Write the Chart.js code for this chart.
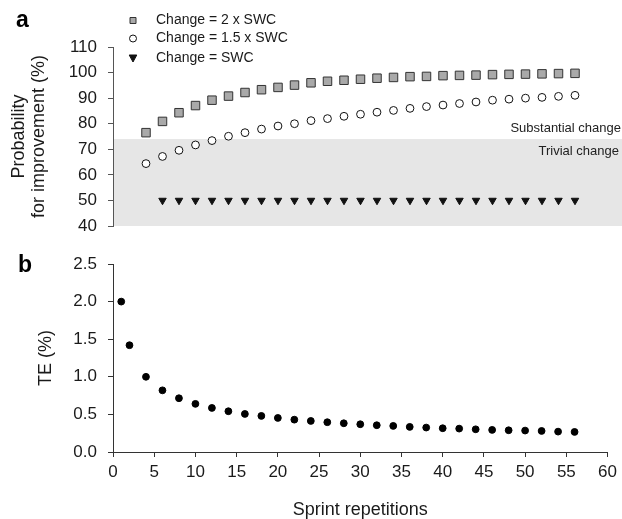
<!DOCTYPE html>
<html>
<head>
<meta charset="utf-8">
<script src="https://cdn.jsdelivr.net/npm/chart.js@4.4.1/dist/chart.umd.min.js"></script>
<style>
  html, body { margin: 0; padding: 0; background: #fff; }
  #wrap { position: relative; width: 622px; height: 519px; }
  #top { position: absolute; left: 0; top: 0; }
  #bot { position: absolute; left: 0; top: 240px; }
</style>
</head>
<body>
<div id="wrap">
  <canvas id="top" width="622" height="240"></canvas>
  <canvas id="bot" width="622" height="279"></canvas>
</div>
<script>
// panel a: probability for improvement (%)
const reps = [4, 6, 8, 10, 12, 14, 16, 18, 20, 22, 24, 26, 28, 30, 32, 34, 36, 38, 40, 42, 44, 46, 48, 50, 52, 54, 56];
const twoSWC = [76.5, 80.9, 84.3, 87.1, 89.2, 90.8, 92.2, 93.3, 94.2, 95.1, 96.0, 96.6, 97.0, 97.4, 97.8, 98.1, 98.4, 98.5, 98.8, 98.9, 99.0, 99.2, 99.3, 99.4, 99.5, 99.6, 99.7];
const onePointFiveSWC = [64.4, 67.2, 69.6, 71.7, 73.4, 75.1, 76.5, 77.9, 79.1, 80.0, 81.2, 82.0, 82.9, 83.7, 84.5, 85.2, 86.0, 86.7, 87.3, 87.9, 88.5, 89.2, 89.6, 90.0, 90.3, 90.7, 91.1];
const oneSWC = [null, 50, 50, 50, 50, 50, 50, 50, 50, 50, 50, 50, 50, 50, 50, 50, 50, 50, 50, 50, 50, 50, 50, 50, 50, 50, 50];
const seriesLabels = ['Change = 2 x SWC', 'Change = 1.5 x SWC', 'Change = SWC'];
const substantialThreshold = 74;

// panel b: typical error (%)
const teReps = [1, 2, 4, 6, 8, 10, 12, 14, 16, 18, 20, 22, 24, 26, 28, 30, 32, 34, 36, 38, 40, 42, 44, 46, 48, 50, 52, 54, 56];
const te = [2.0, 1.42, 1.0, 0.82, 0.715, 0.64, 0.586, 0.542, 0.506, 0.48, 0.453, 0.43, 0.413, 0.396, 0.382, 0.369, 0.356, 0.347, 0.334, 0.325, 0.316, 0.311, 0.302, 0.294, 0.289, 0.285, 0.28, 0.271, 0.267];

const xTicks = [0, 5, 10, 15, 20, 25, 30, 35, 40, 45, 50, 55, 60];

const FONT = '"Liberation Sans", Arial, Helvetica, sans-serif';
const TXT = '#1a1a1a';

const toXY = (xs, ys) => xs.map((x, i) => ({ x: x, y: ys[i] }));

const panelLetter = (letter, x, y) => ({
    id: 'letter' + letter,
    afterDraw(chart) {
        const ctx = chart.ctx;
        ctx.save();
        ctx.font = 'bold 23px ' + FONT;
        ctx.fillStyle = '#000';
        ctx.textBaseline = 'alphabetic';
        ctx.fillText(letter, x, y);
        ctx.restore();
    }
});

// grey band for trivial change + its labels
const bandPlugin = {
    id: 'band',
    beforeDatasetsDraw(chart) {
        const { ctx, chartArea, scales } = chart;
        const yTop = scales.y.getPixelForValue(substantialThreshold);
        const yBot = scales.y.getPixelForValue(scales.y.min);
        ctx.save();
        ctx.fillStyle = '#e6e6e6';
        ctx.fillRect(chartArea.left + 1, yTop, chart.width - chartArea.left - 1, yBot - yTop);
        ctx.font = '13px ' + FONT;
        ctx.fillStyle = '#222';
        ctx.textAlign = 'right';
        ctx.textBaseline = 'middle';
        ctx.fillText('Substantial change', 621, yTop - 11);
        ctx.fillText('Trivial change', 619, yTop + 12);
        ctx.restore();
    }
};

const legendPlugin = {
    id: 'customLegend',
    afterDraw(chart) {
        const ctx = chart.ctx;
        const rows = [20.5, 38.5, 58];
        ctx.save();
        chart.data.datasets.forEach((ds, i) => {
            const cx = 133, cy = rows[i];
            ctx.fillStyle = ds.backgroundColor;
            ctx.strokeStyle = ds.borderColor;
            ctx.lineWidth = 1;
            ctx.beginPath();
            if (ds.pointStyle === 'rect') {
                ctx.rect(cx - 3, cy - 3, 6, 6);
            } else if (ds.pointStyle === 'circle') {
                ctx.arc(cx, cy, 3.5, 0, Math.PI * 2);
            } else {
                ctx.moveTo(cx - 3.8, cy - 3);
                ctx.lineTo(cx + 3.8, cy - 3);
                ctx.lineTo(cx, cy + 4);
                ctx.closePath();
            }
            ctx.fill();
            ctx.stroke();
            ctx.font = '14px ' + FONT;
            ctx.fillStyle = TXT;
            ctx.textBaseline = 'middle';
            ctx.fillText(ds.label, 156, cy);
        });
        ctx.restore();
    }
};

const yAfterFit = scale => {
    scale.width = 113;
    scale.paddingTop = 0;
    scale.paddingBottom = 0;
};

new Chart(document.getElementById('top'), {
    type: 'scatter',
    data: {
        datasets: [{
            label: seriesLabels[0],
            data: toXY(reps, twoSWC),
            pointStyle: 'rect',
            pointRadius: 6,
            backgroundColor: '#a9a9a9',
            borderColor: '#333',
            borderWidth: 1,
            clip: false
        }, {
            label: seriesLabels[1],
            data: toXY(reps, onePointFiveSWC),
            pointStyle: 'circle',
            pointRadius: 3.9,
            backgroundColor: '#fff',
            borderColor: '#111',
            borderWidth: 1,
            clip: false
        }, {
            label: seriesLabels[2],
            data: toXY(reps, oneSWC),
            pointStyle: 'triangle',
            rotation: 180,
            pointRadius: 4.3,
            backgroundColor: '#111',
            borderColor: '#111',
            borderWidth: 1,
            clip: false
        }]
    },
    options: {
        responsive: false,
        animation: false,
        events: [],
        layout: { padding: { top: 47, bottom: 14, left: 0, right: 14 } },
        plugins: { legend: { display: false }, tooltip: { enabled: false } },
        scales: {
            x: { type: 'linear', min: 0, max: 60, display: false },
            y: {
                min: 40,
                max: 110,
                afterFit: yAfterFit,
                ticks: { stepSize: 10, padding: 11, color: TXT, font: { family: FONT, size: 17 } },
                grid: { drawOnChartArea: false, tickLength: 5, color: '#555' },
                border: { color: '#555', width: 1 },
                title: {
                    display: true,
                    text: ['Probability', 'for improvement (%)'],
                    color: TXT,
                    font: { family: FONT, size: 18, lineHeight: 1.1 },
                    padding: { top: 9, bottom: 0 }
                }
            }
        }
    },
    plugins: [bandPlugin, legendPlugin, panelLetter('a', 16, 27)]
});

new Chart(document.getElementById('bot'), {
    type: 'scatter',
    data: {
        datasets: [{
            label: 'TE',
            data: toXY(teReps, te),
            pointStyle: 'circle',
            pointRadius: 3.4,
            backgroundColor: '#000',
            borderColor: '#000',
            borderWidth: 1,
            clip: false
        }]
    },
    options: {
        responsive: false,
        animation: false,
        events: [],
        layout: { padding: { top: 24, bottom: 0, left: 0, right: 14 } },
        plugins: { legend: { display: false }, tooltip: { enabled: false } },
        scales: {
            x: {
                type: 'linear',
                min: 0,
                max: 60,
                afterFit: scale => { scale.height = 67; },
                afterBuildTicks: scale => { scale.ticks = xTicks.map(v => ({ value: v })); },
                ticks: { padding: 5, color: TXT, font: { family: FONT, size: 17 } },
                grid: { drawOnChartArea: false, tickLength: 5, color: '#333' },
                border: { color: '#333', width: 1 },
                title: {
                    display: true,
                    text: 'Sprint repetitions',
                    color: TXT,
                    font: { family: FONT, size: 18, lineHeight: 1.0 },
                    padding: { top: 0, bottom: 0 }
                }
            },
            y: {
                min: 0,
                max: 2.5,
                afterFit: yAfterFit,
                ticks: { stepSize: 0.5, padding: 11, color: TXT, font: { family: FONT, size: 17 }, callback: v => v.toFixed(1) },
                grid: { drawOnChartArea: false, tickLength: 5, color: '#333' },
                border: { color: '#333', width: 1 },
                title: {
                    display: true,
                    text: 'TE (%)',
                    color: TXT,
                    font: { family: FONT, size: 18, lineHeight: 1.1 },
                    padding: { top: 36, bottom: 0 }
                }
            }
        }
    },
    plugins: [panelLetter('b', 18, 272 - 240)]
});
</script>
</body>
</html>
